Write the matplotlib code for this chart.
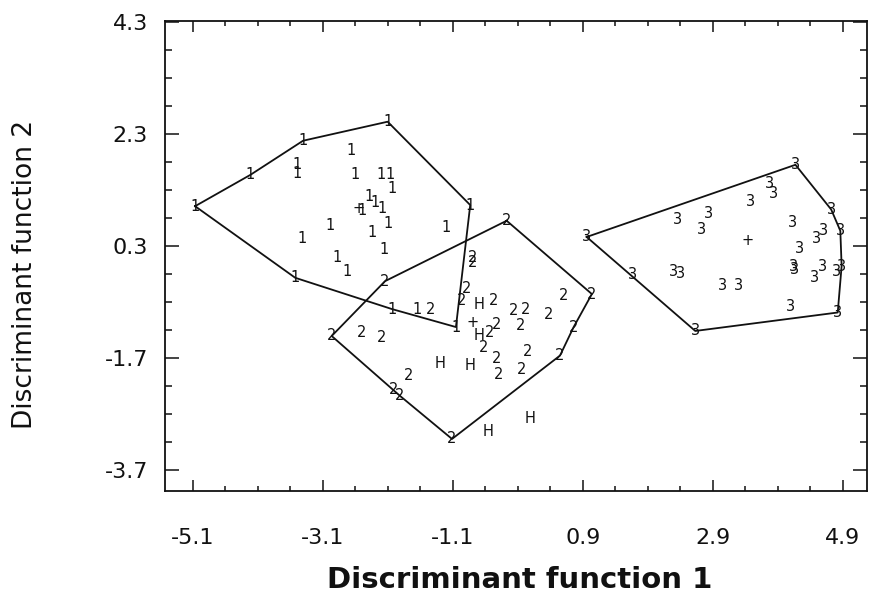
"""Territorial plot of three groups on the first two discriminant functions."""

import matplotlib

matplotlib.use("Agg")
import matplotlib.pyplot as plt
from matplotlib.ticker import FixedLocator, MultipleLocator

# Group 1: hull vertices, then interior cases
g1_hull_x = [-5.06, -4.21, -3.40, -2.10, -0.83, -1.05, -2.03, -3.52]
g1_hull_y = [1.01, 1.57, 2.18, 2.52, 1.03, -1.15, -0.83, -0.27]
g1_x = [-2.66, -3.49, -3.49, -2.60, -2.20, -2.06, -2.03, -2.39, -2.29, -2.19,
        -2.50, -2.98, -2.09, -2.34, -1.20, -3.42, -2.15, -2.88, -2.72, -1.65]
g1_y = [2.00, 1.75, 1.60, 1.58, 1.58, 1.58, 1.33, 1.18, 1.07, 0.97,
        0.93, 0.66, 0.70, 0.54, 0.63, 0.44, 0.24, 0.09, -0.16, -0.83]

# Group 2
g2_hull_x = [-0.27, 1.04, 0.76, 0.55, -1.11, -1.91, -2.96, -2.14]
g2_hull_y = [0.75, -0.56, -1.15, -1.66, -3.15, -2.38, -1.31, -0.33]
g2_x = [-0.80, -0.80, -0.88, -0.96, -0.47, -0.17, 0.02, 0.37, 0.60, -0.42,
        -0.05, -0.53, -0.63, 0.05, -0.43, -0.40, -0.04, -2.50, -2.19, -1.78,
        -2.01, -1.44]
g2_y = [0.09, 0.00, -0.47, -0.68, -0.68, -0.86, -0.83, -0.92, -0.59, -1.10,
        -1.13, -1.25, -1.52, -1.59, -1.72, -1.99, -1.91, -1.25, -1.34, -2.02,
        -2.26, -0.83]

# Group 3
g3_hull_x = [0.96, 4.17, 4.72, 4.86, 4.88, 4.82, 2.63]
g3_hull_y = [0.46, 1.75, 0.95, 0.57, -0.06, -0.89, -1.22]
g3_x = [3.77, 3.83, 3.48, 2.36, 2.83, 2.73, 4.12, 4.60, 4.49, 4.23,
        4.14, 4.16, 4.59, 4.80, 4.47, 1.66, 2.30, 2.40, 3.05, 3.29, 4.09]
g3_y = [1.41, 1.23, 1.09, 0.78, 0.88, 0.60, 0.72, 0.58, 0.44, 0.25,
        -0.06, -0.12, -0.06, -0.16, -0.27, -0.21, -0.16, -0.19, -0.41, -0.40, -0.79]

# Ungrouped cases
h_x = [-0.69, -0.70, -1.30, -0.84, -0.56, 0.09]
h_y = [-0.75, -1.31, -1.80, -1.83, -3.02, -2.79]

# Group centroids
centroid_x = [-2.54, -0.80, 3.43]
centroid_y = [0.96, -1.07, 0.39]

x_ticks = [-5.1, -3.1, -1.1, 0.9, 2.9, 4.9]
y_ticks = [-3.7, -1.7, 0.3, 2.3, 4.3]

fig = plt.figure(figsize=(8.71, 6.10), dpi=100)
ax = fig.add_axes([0.1889, 0.1951, 0.8065, 0.7705])

groups = [
    ("1", g1_hull_x, g1_hull_y, g1_x, g1_y),
    ("2", g2_hull_x, g2_hull_y, g2_x, g2_y),
    ("3", g3_hull_x, g3_hull_y, g3_x, g3_y),
]
mark_kw = dict(ha="center", va="center", fontsize=10.5, color="#111111")

for label, hx, hy, px, py in groups:
    ax.plot(hx + hx[:1], hy + hy[:1], color="#111111", lw=1.3)
    for x, y in zip(hx + px, hy + py):
        ax.text(x, y, label, **mark_kw)

for x, y in zip(h_x, h_y):
    ax.text(x, y, "H", **mark_kw)
for x, y in zip(centroid_x, centroid_y):
    ax.text(x, y, "+", **mark_kw)

ax.set_xlim(-5.53, 5.27)
ax.set_ylim(-4.08, 4.32)
ax.xaxis.set_major_locator(FixedLocator(x_ticks))
ax.yaxis.set_major_locator(FixedLocator(y_ticks))
ax.xaxis.set_minor_locator(MultipleLocator(0.5, offset=0.4))
ax.yaxis.set_minor_locator(MultipleLocator(0.5, offset=0.3))
ax.set_xticklabels([f"{t:.1f}" for t in x_ticks])
ax.set_yticklabels([f"{t:.1f}" for t in y_ticks])

ax.tick_params(which="both", direction="in", top=True, right=True,
               width=1.1, color="#111111", labelcolor="#111111", labelsize=16)
ax.tick_params(axis="x", which="major", length=8, pad=27)
ax.tick_params(axis="x", which="minor", length=3.6)
ax.tick_params(axis="y", which="major", length=10, pad=12)
ax.tick_params(axis="y", which="minor", length=5)
for spine in ax.spines.values():
    spine.set_linewidth(1.3)
    spine.set_color("#111111")

ax.set_xlabel("Discriminant function 1", fontsize=21, fontweight="bold", color="#111111")
ax.xaxis.set_label_coords(0.506, -0.189)
ax.xaxis.label.set_va("center")
ax.set_ylabel("Discriminant function 2", fontsize=19, color="#111111")
ax.yaxis.set_label_coords(-0.198, 0.46)
ax.yaxis.label.set_va("center")

fig.savefig("out.png", dpi=100)
